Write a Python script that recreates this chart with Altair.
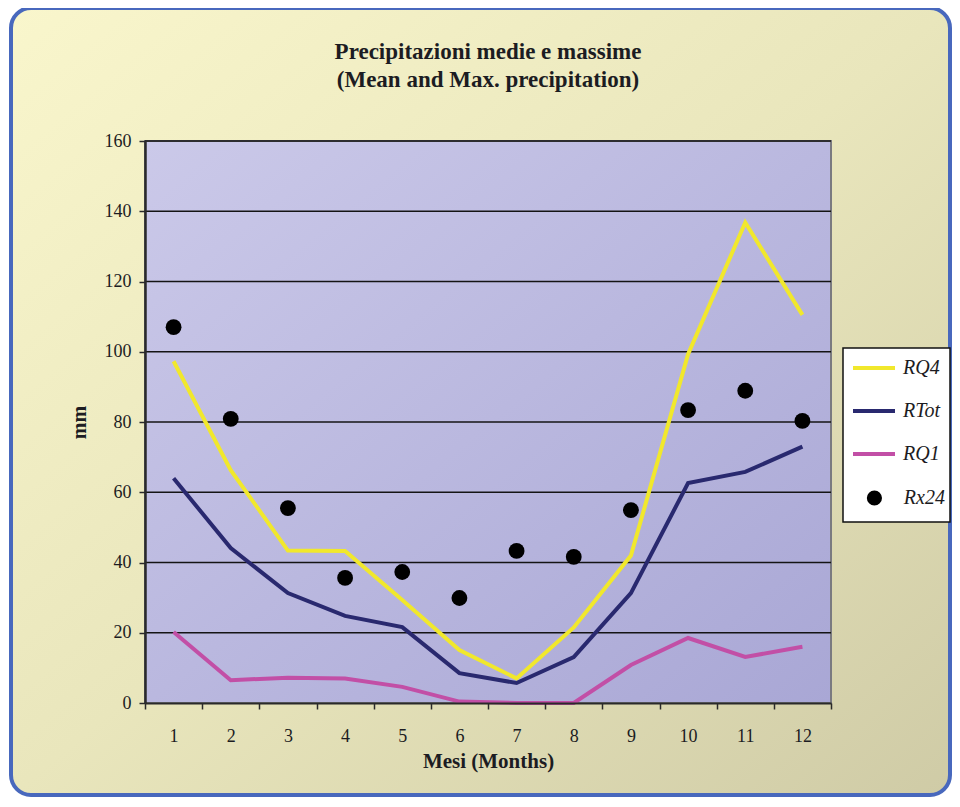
import altair as alt
import pandas as pd

# ---------------- data ----------------
months = list(range(1, 13))
rq4 = [97.3, 66.3, 43.4, 43.3, 29.3, 15.1, 7.0, 21.5, 42.0, 99.3, 136.8, 110.5]
rtot = [64.0, 44.1, 31.3, 24.8, 21.6, 8.5, 5.7, 13.1, 31.3, 62.6, 65.8, 73.0]
rq1 = [20.2, 6.5, 7.2, 7.0, 4.6, 0.4, 0.0, 0.0, 10.8, 18.5, 13.1, 16.0]
rx24 = [107.0, 80.9, 55.5, 35.6, 37.3, 29.9, 43.3, 41.6, 54.9, 83.4, 88.9, 80.3]

line_names = ["RQ4", "RTot", "RQ1"]
line_colors = ["#f1e82c", "#29296f", "#c24fa6"]
point_name = "Rx24"
y_ticks = [0, 20, 40, 60, 80, 100, 120, 140, 160]
grid_values = [20, 40, 60, 80, 100, 120, 140, 160]

title_lines = ["Precipitazioni medie e massime", "(Mean and Max. precipitation)"]
x_title = "Mesi (Months)"
y_title = "mm"

lines_df = pd.DataFrame({
    "month": months * 3,
    "value": rq4 + rtot + rq1,
    "series": ["RQ4"] * 12 + ["RTot"] * 12 + ["RQ1"] * 12,
})
points_df = pd.DataFrame({"month": months, "value": rx24, "series": [point_name] * 12})
grid_df = pd.DataFrame({"value": grid_values})

W, H = 686, 562
FONT = "Liberation Serif"
TXT = "#1c1c22"

# ---------------- encodings ----------------
y_enc = alt.Y(
    "value:Q",
    scale=alt.Scale(domain=[0, 160], nice=False, zero=True),
    axis=alt.Axis(
        values=y_ticks, grid=False, domainColor="#2a2a2a", domainWidth=2.5,
        tickColor="#2a2a2a", tickWidth=1.5, tickSize=6,
        labelFont=FONT, labelFontSize=18, labelColor=TXT, labelPadding=8,
        title=y_title, titleFont=FONT, titleFontSize=20, titleFontWeight="bold",
        titleColor=TXT, titlePadding=15, zindex=1,
    ),
)
x_enc = alt.X(
    "month:O",
    bandPosition=0.5,
    scale=alt.Scale(type="band", domain=months, paddingInner=0, paddingOuter=0),
    axis=alt.Axis(
        labelAngle=0, tickBand="extent", grid=False,
        domainColor="#2a2a2a", domainWidth=2, tickColor="#2a2a2a", tickWidth=1.5,
        tickSize=6, labelFont=FONT, labelFontSize=18, labelColor=TXT,
        labelPadding=18, title=x_title, titleFont=FONT, titleFontSize=21,
        titleFontWeight="bold", titleColor=TXT, titlePadding=5, zindex=1,
    ),
)

LEG_X = 706
SYM_W = 42
DOT = 230 ** 0.5
line_legend = alt.Legend(
    title=None, orient="none", legendX=LEG_X, legendY=217, padding=0,
    symbolType="stroke", symbolSize=SYM_W * SYM_W, symbolStrokeWidth=4,
    clipHeight=20, rowPadding=23, labelOffset=6,
    labelFont=FONT, labelFontStyle="italic", labelFontSize=20, labelColor=TXT,
    zindex=1,
)
point_legend = alt.Legend(
    title=None, orient="none", legendX=LEG_X + (SYM_W - DOT) / 2, legendY=347, padding=0,
    symbolType="circle", symbolSize=230, symbolFillColor="#000000",
    symbolStrokeColor="#000000", symbolStrokeWidth=0, symbolOpacity=1,
    clipHeight=20, labelOffset=(SYM_W - DOT) / 2 + 6,
    labelFont=FONT, labelFontStyle="italic", labelFontSize=20, labelColor=TXT,
    zindex=1,
)

# ---------------- layers ----------------
outer_grad = alt.LinearGradient(
    gradient="linear", x1=0, y1=0, x2=1, y2=1,
    stops=[alt.GradientStop(color="#f9f6cc", offset=0),
           alt.GradientStop(color="#e9e6bc", offset=0.5),
           alt.GradientStop(color="#cfcba6", offset=1)],
)
plot_grad = alt.LinearGradient(
    gradient="linear", x1=0, y1=0, x2=1, y2=1,
    stops=[alt.GradientStop(color="#cbc9e9", offset=0),
           alt.GradientStop(color="#a9a7d5", offset=1)],
)

one = alt.Data(values=[{"k": 1}])

outer_bg = alt.Chart(one).mark_rect(
    fill=outer_grad, stroke="#4868bd", strokeWidth=4, cornerRadius=20
).encode(
    x=alt.value(-134), x2=alt.value(805), y=alt.value(-133), y2=alt.value(654)
)

plot_bg = alt.Chart(one).mark_rect(
    fill=plot_grad, stroke="#7a7a80", strokeWidth=2
).encode(
    x=alt.value(0), x2=alt.value(W), y=alt.value(0), y2=alt.value(H)
)

title_mark = alt.Chart(one).mark_text(
    text=title_lines, font=FONT, fontSize=23, fontWeight="bold", color=TXT,
    align="center", baseline="middle", lineHeight=28,
).encode(x=alt.value(W / 2), y=alt.value(-89))

grid = alt.Chart(grid_df).mark_rule(color="#141414", strokeWidth=1.6).encode(y=y_enc)

lines = alt.Chart(lines_df).mark_line(strokeWidth=4, strokeJoin="miter").encode(
    x=x_enc, y=y_enc,
    color=alt.Color("series:N", scale=alt.Scale(domain=line_names, range=line_colors),
                    legend=line_legend),
)

points = alt.Chart(points_df).mark_point(
    filled=True, size=250, opacity=1, color="#000000"
).encode(
    x=x_enc, y=y_enc,
    shape=alt.Shape("series:N", scale=alt.Scale(domain=[point_name], range=["circle"]),
                    legend=point_legend),
)

legend_box = alt.Chart(one).mark_rect(
    fill="#ffffff", stroke="#111111", strokeWidth=1.5
).encode(
    x=alt.value(698), x2=alt.value(805), y=alt.value(207), y2=alt.value(381)
)

chart = alt.layer(outer_bg, plot_bg, title_mark, grid, lines, points, legend_box).properties(
    width=W, height=H,
    autosize=alt.AutoSizeParams(type="none"),
    padding={"left": 137, "top": 133, "right": 121, "bottom": 94},
).resolve_legend(color="independent", shape="independent").configure_view(strokeWidth=0)

chart.save("out.html", embed_options={"renderer": "svg", "actions": False})
